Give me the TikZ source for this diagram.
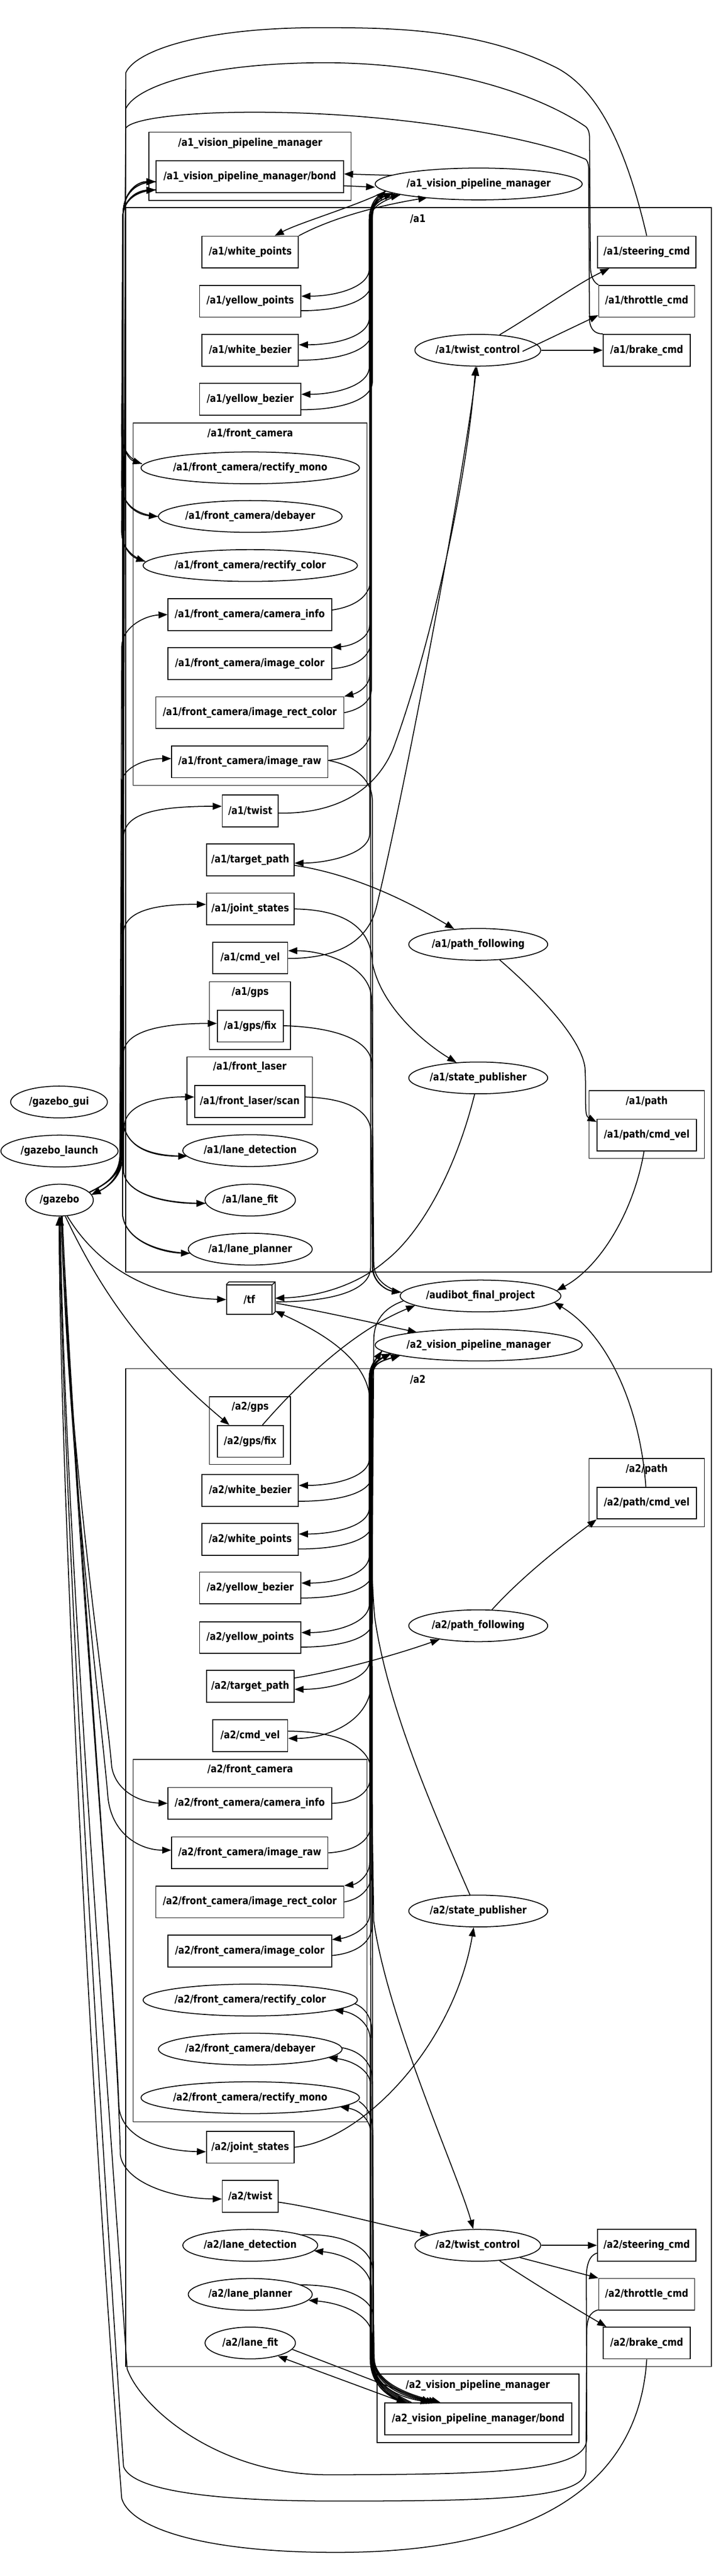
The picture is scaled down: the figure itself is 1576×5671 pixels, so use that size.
\documentclass[tikz,border=0pt]{standalone}
\usepackage{fontspec}
\newfontfamily\gvfamily{DejaVu Sans}[FakeStretch=0.85]
\newcommand\gvfont{\gvfamily\bfseries\fontsize{11.6pt}{13pt}\selectfont}
\usetikzlibrary{arrows.meta,shapes.geometric,calc}
\tikzset{
  topic/.style={draw, rectangle, line width=1pt, minimum height=35pt, inner sep=0pt, font=\gvfont},
  nodelet/.style={draw, ellipse, line width=1pt, minimum height=35pt, inner sep=0pt, font=\gvfont},
  group/.style={draw, line width=0.9pt},
  grouplabel/.style={inner sep=0pt, font=\gvfont},
  edge/.style={line width=1pt, -{Triangle[length=10pt,width=7.5pt]}},
}
\begin{document}
\begin{tikzpicture}[x=0.5pt, y=-0.5pt]
  \fill[white] (0,0) rectangle (1576,5671);
%--- Clusters
  \draw[group] (328,291) rectangle (773,441);
  \node[grouplabel] (a1vpmlbl) at (551,315) {/a1\_vision\_pipeline\_manager};
  \draw[group] (277,457) rectangle (1566,2800);
  \node[grouplabel] (a1lbl) at (920,482) {/a1};
  \draw[group] (293,931) rectangle (808,1729);
  \node[grouplabel] (a1fclbl) at (551,955) {/a1/front\_camera};
  \draw[group] (461,2161) rectangle (640,2310);
  \node[grouplabel] (a1gpslbl) at (551,2185) {/a1/gps};
  \draw[group] (412,2327) rectangle (688,2476);
  \node[grouplabel] (a1fllbl) at (550,2349) {/a1/front\_laser};
  \draw[group] (1297,2401) rectangle (1551,2550);
  \node[grouplabel] (a1pathlbl) at (1424,2425) {/a1/path};
  \draw[group] (277,3013) rectangle (1566,5210);
  \node[grouplabel] (a2lbl) at (920,3037) {/a2};
  \draw[group] (461,3075) rectangle (640,3224);
  \node[grouplabel] (a2gpslbl) at (551,3098) {/a2/gps};
  \draw[group] (1297,3211) rectangle (1551,3361);
  \node[grouplabel] (a2pathlbl) at (1424,3235) {/a2/path};
  \draw[group] (293,3873) rectangle (808,4671);
  \node[grouplabel] (a2fclbl) at (551,3896) {/a2/front\_camera};
  \draw[group] (830,5226) rectangle (1275,5377);
  \node[grouplabel] (a2vpmlbl) at (1052,5251) {/a2\_vision\_pipeline\_manager};
%--- Nodes /a1
  \node[topic, minimum width=206.5pt] (a1bond) at (550,389) {/a1\_vision\_pipeline\_manager/bond};
  \node[nodelet, minimum width=228pt] (a1vpm) at (1054,405) {/a1\_vision\_pipeline\_manager};
  \node[topic, minimum width=106pt] (a1wp) at (551,555) {/a1/white\_points};
  \node[topic, minimum width=111.5pt] (a1yp) at (551,663) {/a1/yellow\_points};
  \node[topic, minimum width=106pt] (a1wb) at (551,771) {/a1/white\_bezier};
  \node[topic, minimum width=111.5pt] (a1yb) at (551,879) {/a1/yellow\_bezier};
  \node[topic, minimum width=108.5pt] (a1steer) at (1424,555) {/a1/steering\_cmd};
  \node[topic, minimum width=105.5pt] (a1thr) at (1424,663) {/a1/throttle\_cmd};
  \node[topic, minimum width=96pt] (a1brake) at (1424,771) {/a1/brake\_cmd};
  \node[nodelet, minimum width=138.5pt] (a1tc) at (1052,771) {/a1/twist\_control};
  \node[nodelet, minimum width=240.5pt] (a1rm) at (551,1030) {/a1/front\_camera/rectify\_mono};
  \node[nodelet, minimum width=200.5pt] (a1deb) at (551,1137) {/a1/front\_camera/debayer};
  \node[nodelet, minimum width=236pt] (a1rc) at (551,1245) {/a1/front\_camera/rectify\_color};
  \node[topic, minimum width=180pt] (a1ci) at (550,1353) {/a1/front\_camera/camera\_info};
  \node[topic, minimum width=180pt] (a1ic) at (550,1461) {/a1/front\_camera/image\_color};
  \node[topic, minimum width=207pt] (a1irc) at (550,1569) {/a1/front\_camera/image\_rect\_color};
  \node[topic, minimum width=172pt] (a1ir) at (550,1677) {/a1/front\_camera/image\_raw};
  \node[topic, minimum width=61.5pt] (a1tw) at (551,1785) {/a1/twist};
  \node[topic, minimum width=96.5pt] (a1tp) at (551,1893) {/a1/target\_path};
  \node[topic, minimum width=96.5pt] (a1js) at (551,2001) {/a1/joint\_states};
  \node[topic, minimum width=82.5pt] (a1cv) at (551,2109) {/a1/cmd\_vel};
  \node[topic, minimum width=72.5pt] (a1fix) at (551,2259) {/a1/gps/fix};
  \node[topic, minimum width=121.5pt] (a1scan) at (550,2425) {/a1/front\_laser/scan};
  \node[nodelet, minimum width=153pt] (a1pf) at (1053,2079) {/a1/path\_following};
  \node[nodelet, minimum width=153pt] (a1sp) at (1053,2373) {/a1/state\_publisher};
  \node[topic, minimum width=109.5pt] (a1pcv) at (1424,2499) {/a1/path/cmd\_vel};
  \node[nodelet, minimum width=148.5pt] (a1ld) at (551,2533) {/a1/lane\_detection};
  \node[nodelet, minimum width=99.5pt] (a1lf) at (551,2642) {/a1/lane\_fit};
  \node[nodelet, minimum width=136.5pt] (a1lp) at (551,2750) {/a1/lane\_planner};
%--- Nodes outside
  \node[nodelet, minimum width=106.5pt] (gzgui) at (130,2426) {/gazebo\_gui};
  \node[nodelet, minimum width=129pt] (gzl) at (131,2534) {/gazebo\_launch};
  \node[nodelet, minimum width=74.5pt] (gz) at (131,2642) {/gazebo};
  \node[topic, minimum width=50pt, minimum height=32pt] (tf) at (549,2861) {/tf};
  \draw[line width=1pt] (tf.north west) -- ++(6,-6) -- ($(tf.north east)+(6,-6)$) -- ($(tf.south east)+(6,-6)$) -- (tf.south east);
  \draw[line width=1pt] (tf.north east) -- ++(6,-6);
  \node[nodelet, minimum width=177pt] (afp) at (1058,2853) {/audibot\_final\_project};
  \node[nodelet, minimum width=228pt] (a2vpm) at (1054,2961) {/a2\_vision\_pipeline\_manager};
%--- Nodes /a2
  \node[topic, minimum width=72.5pt] (a2fix) at (551,3173) {/a2/gps/fix};
  \node[topic, minimum width=106pt] (a2wb) at (551,3281) {/a2/white\_bezier};
  \node[topic, minimum width=106pt] (a2wp) at (551,3389) {/a2/white\_points};
  \node[topic, minimum width=111.5pt] (a2yb) at (551,3496) {/a2/yellow\_bezier};
  \node[topic, minimum width=111.5pt] (a2yp) at (551,3605) {/a2/yellow\_points};
  \node[topic, minimum width=96.5pt] (a2tp) at (551,3712) {/a2/target\_path};
  \node[topic, minimum width=82.5pt] (a2cv) at (551,3821) {/a2/cmd\_vel};
  \node[topic, minimum width=109.5pt] (a2pcv) at (1424,3309) {/a2/path/cmd\_vel};
  \node[nodelet, minimum width=153pt] (a2pf) at (1053,3579) {/a2/path\_following};
  \node[topic, minimum width=180pt] (a2ci) at (550,3970) {/a2/front\_camera/camera\_info};
  \node[topic, minimum width=172pt] (a2ir) at (550,4079) {/a2/front\_camera/image\_raw};
  \node[topic, minimum width=207pt] (a2irc) at (550,4187) {/a2/front\_camera/image\_rect\_color};
  \node[topic, minimum width=180pt] (a2ic) at (550,4295) {/a2/front\_camera/image\_color};
  \node[nodelet, minimum width=236pt] (a2rc) at (551,4403) {/a2/front\_camera/rectify\_color};
  \node[nodelet, minimum width=200.5pt] (a2deb) at (551,4511) {/a2/front\_camera/debayer};
  \node[nodelet, minimum width=240.5pt] (a2rm) at (551,4618) {/a2/front\_camera/rectify\_mono};
  \node[nodelet, minimum width=153pt] (a2sp) at (1053,4207) {/a2/state\_publisher};
  \node[topic, minimum width=96.5pt] (a2js) at (551,4727) {/a2/joint\_states};
  \node[topic, minimum width=61.5pt] (a2tw) at (551,4835) {/a2/twist};
  \node[nodelet, minimum width=148.5pt] (a2ld) at (551,4943) {/a2/lane\_detection};
  \node[nodelet, minimum width=136.5pt] (a2lp) at (551,5051) {/a2/lane\_planner};
  \node[nodelet, minimum width=99.5pt] (a2lf) at (551,5158) {/a2/lane\_fit};
  \node[nodelet, minimum width=138.5pt] (a2tc) at (1052,4943) {/a2/twist\_control};
  \node[topic, minimum width=108.5pt] (a2steer) at (1424,4943) {/a2/steering\_cmd};
  \node[topic, minimum width=105.5pt] (a2thr) at (1424,5051) {/a2/throttle\_cmd};
  \node[topic, minimum width=96pt] (a2brake) at (1424,5158) {/a2/brake\_cmd};
  \node[topic, minimum width=206pt] (a2bond) at (1053,5325) {/a2\_vision\_pipeline\_manager/bond};
%--- Vision manager /a1
  \draw[edge] ($(a1bond.east)+(0,20)$) -- ($(a1vpm.west)+(1,7)$);
  \draw[edge] ($(a1vpm.west)+(38,-19)$) -- ($(a1bond.east)+(0,-6)$);
  \draw[edge] ($(a1vpm.west)+(24,16)$) .. controls (780,455) and (660,490) .. ($(a1wp.north)+(54,0)$);
  \draw[edge] (a1wp.north east) .. controls (740,475) and (850,450) .. ($(a1vpm.west)+(116,30)$);
  \draw[edge] ($(a1vpm.west)+(40,20)$) .. controls (824,438) and (813,455) .. (813,485) -- (813,592) .. controls (813,632) and (740,652) .. ($(a1yp.east)+(0,-11)$);
  \draw[edge] ($(a1yp.east)+(0,21)$) .. controls (752,684) and (818,662) .. (818,622) -- (818,485) .. controls (818,455) and (828,440) .. ($(a1vpm.west)+(40,20)$);
  \draw[edge] ($(a1vpm.west)+(40,20)$) .. controls (824,438) and (813,455) .. (813,485) -- (813,700) .. controls (813,740) and (740,759) .. ($(a1wb.east)+(0,-12)$);
  \draw[edge] ($(a1wb.east)+(0,22)$) .. controls (752,793) and (819,770) .. (819,730) -- (819,485) .. controls (819,455) and (828,440) .. ($(a1vpm.west)+(40,20)$);
  \draw[edge] ($(a1vpm.west)+(40,20)$) .. controls (824,438) and (813,455) .. (813,485) -- (813,808) .. controls (813,848) and (740,868) .. ($(a1yb.east)+(0,-11)$);
  \draw[edge] ($(a1yb.east)+(0,23)$) .. controls (752,902) and (820,880) .. (820,840) -- (820,485) .. controls (820,455) and (828,440) .. ($(a1vpm.west)+(40,20)$);
  \draw[edge] ($(a1ci.east)+(0,-10)$) .. controls (785,1335) and (816,1310) .. (816,1275) -- (816,485) .. controls (816,455) and (828,440) .. ($(a1vpm.west)+(24,16)$);
  \draw[edge] ($(a1vpm.west)+(24,16)$) .. controls (822,435) and (814,455) .. (814,485) -- (814,1375) .. controls (814,1405) and (775,1422) .. (a1ic.north east);
  \draw[edge] ($(a1ic.east)+(0,11)$) .. controls (785,1468) and (817,1445) .. (817,1410) -- (817,485) .. controls (817,455) and (828,440) .. ($(a1vpm.west)+(24,16)$);
  \draw[edge] ($(a1vpm.west)+(24,16)$) .. controls (822,435) and (814,455) .. (814,485) -- (814,1485) .. controls (814,1510) and (790,1525) .. (a1irc.north east);
  \draw[edge] (a1irc.east) .. controls (792,1562) and (818,1545) .. (818,1515) -- (818,485) .. controls (818,455) and (830,440) .. ($(a1vpm.west)+(56,24)$);
  \draw[edge] ($(a1ir.east)+(0,-3)$) .. controls (780,1668) and (816,1645) .. (816,1605) -- (816,485) .. controls (816,455) and (830,440) .. ($(a1vpm.west)+(56,24)$);
  \draw[edge] ($(a1vpm.west)+(56,24)$) .. controls (832,445) and (814,460) .. (814,490) -- (814,1835) .. controls (814,1880) and (720,1900) .. ($(a1tp.east)+(0,7)$);
  \draw[edge] ($(tf.east)+(8,5)$) .. controls (720,2866) and (816,2845) .. (816,2790) -- (816,485) .. controls (816,455) and (830,440) .. ($(a1vpm.west)+(56,24)$);
%--- /a1 control
  \draw[edge] ($(a1ir.east)+(0,-3)$) .. controls (780,1685) and (820,1715) .. (820,1765) -- (821,2790) .. controls (821,2820) and (848,2840) .. ($(afp.west)+(3,-8)$);
  \draw[edge] ($(afp.west)+(3,-8)$) .. controls (848,2835) and (823,2815) .. (823,2780) -- (818,2200) .. controls (818,2130) and (720,2093) .. ($(a1cv.east)+(0,-16)$);
  \draw[edge] ($(a1cv.east)+(0,1)$) .. controls (740,2110) and (808,2075) .. (828,2000) .. controls (880,1790) and (1010,1120) .. ($(a1tc.south)+(-2,0)$);
  \draw[edge] ($(a1tw.east)+(0,5)$) .. controls (720,1792) and (820,1755) .. (865,1650) .. controls (950,1420) and (1030,1050) .. ($(a1tc.south)+(-5,0)$);
  \draw[edge] ($(a1tc.north)+(48,2)$) .. controls (1180,690) and (1270,625) .. ($(a1steer.south west)+(27,0)$);
  \draw[edge] ($(a1tc.north east)+(0,28)$) -- ($(a1thr.south west)+(0,-5)$);
  \draw[edge] (a1tc.east) -- (a1brake.west);
  \draw[edge] ($(a1tp.east)+(0,12)$) .. controls (780,1925) and (900,1985) .. ($(a1pf.north)+(-53,2)$);
  \draw[edge] (a1js.east) .. controls (770,2003) and (818,2050) .. (820,2120) .. controls (840,2220) and (940,2300) .. ($(a1sp.north)+(-48,2)$);
  \draw[edge] ($(a1fix.east)+(0,-1)$) .. controls (745,2262) and (819,2292) .. (819,2345) -- (821,2790) .. controls (821,2820) and (848,2840) .. ($(afp.west)+(3,-8)$);
  \draw[edge] ($(a1scan.east)+(0,-10)$) .. controls (765,2418) and (817,2445) .. (817,2495) -- (820,2790) .. controls (820,2820) and (848,2840) .. ($(afp.west)+(3,-8)$);
  \draw[edge] ($(a1pf.south)+(47,-2)$) .. controls (1200,2200) and (1280,2290) .. (1288,2350) .. controls (1292,2420) and (1285,2455) .. ($(a1pcv.west)+(0,-29)$);
  \draw[edge] ($(a1pcv.south)+(-6,0)$) .. controls (1395,2670) and (1320,2790) .. ($(afp.east)+(-10,-12)$);
  \draw[edge] ($(a1sp.south)+(-8,0)$) .. controls (1000,2590) and (920,2720) .. (850,2775) .. controls (780,2835) and (690,2855) .. ($(tf.east)+(6,-3)$);
%--- /gazebo to /a1
  \draw[edge] ($(gz.east)+(-10,-17)$) .. controls (230,2608) and (262,2590) .. (264,2545) -- (268,1425) .. controls (268,1380) and (320,1355) .. (a1ci.west);
  \draw[edge] ($(gz.east)+(-10,-17)$) .. controls (230,2608) and (262,2590) .. (264,2545) -- (268,1725) .. controls (268,1690) and (320,1670) .. ($(a1ir.west)+(0,-7)$);
  \draw[edge] ($(gz.east)+(-10,-17)$) .. controls (230,2608) and (264,2590) .. (266,2545) -- (272,1845) .. controls (272,1795) and (330,1775) .. ($(a1tw.west)+(0,-10)$);
  \draw[edge] ($(gz.east)+(-10,-17)$) .. controls (230,2608) and (264,2590) .. (266,2545) -- (272,2055) .. controls (272,2010) and (330,1990) .. ($(a1js.west)+(0,-10)$);
  \draw[edge] ($(gz.east)+(-10,-17)$) .. controls (230,2608) and (264,2590) .. (266,2545) -- (272,2320) .. controls (272,2275) and (340,2253) .. ($(a1fix.west)+(0,-6)$);
  \draw[edge] ($(gz.east)+(-10,-17)$) .. controls (230,2608) and (266,2590) .. (268,2545) -- (274,2480) .. controls (274,2435) and (340,2414) .. ($(a1scan.west)+(0,-10)$);
%--- /a1 commands to /gazebo
  \draw[edge] (a1steer.north) .. controls (1380,330) and (1320,200) .. (1227,150) .. controls (1050,60) and (850,61) .. (700,61) .. controls (450,61) and (300,110) .. (277,160) -- (270,2545) .. controls (270,2592) and (235,2614) .. ($(gz.east)+(-5,-12)$);
  \draw[edge] (a1thr.north west) .. controls (1308,622) and (1300,610) .. (1300,585) -- (1298,300) .. controls (1297,288) and (1294,283) .. (1290,279) .. controls (1190,210) and (990,140) .. (720,138) .. controls (450,138) and (300,190) .. (277,239) -- (268,2545) .. controls (268,2592) and (235,2614) .. ($(gz.east)+(-5,-12)$);
  \draw[edge] (a1brake.north west) .. controls (1310,735) and (1298,725) .. (1298,700) -- (1296,368) .. controls (1295,358) and (1293,354) .. (1290,351) .. controls (1200,310) and (900,247) .. (560,247) .. controls (400,247) and (290,262) .. (277,282) -- (266,2545) .. controls (266,2592) and (235,2614) .. ($(gz.east)+(-5,-12)$);
%--- bond /a1
  \draw[edge] ($(a1bond.west)+(0,11)$) .. controls (300,400) and (272,425) .. (271,470) -- (268,950) .. controls (268,990) and (285,1012) .. ($(a1rm.west)+(3,-9)$);
  \draw[edge] ($(a1rm.west)+(3,-9)$) .. controls (285,1012) and (268,990) .. (268,950) -- (271,470) .. controls (272,425) and (300,400) .. ($(a1bond.west)+(0,11)$);
  \draw[edge] ($(a1bond.west)+(0,29)$) .. controls (300,420) and (271,440) .. (270,480) -- (268,1066) .. controls (268,1110) and (300,1133) .. (a1deb.west);
  \draw[edge] (a1deb.west) .. controls (300,1133) and (268,1110) .. (268,1066) -- (270,480) .. controls (271,440) and (300,420) .. ($(a1bond.west)+(0,29)$);
  \draw[edge] ($(a1bond.west)+(0,11)$) .. controls (300,400) and (272,425) .. (271,470) -- (268,1170) .. controls (268,1205) and (290,1226) .. ($(a1rc.west)+(6,-9)$);
  \draw[edge] ($(a1rc.west)+(6,-9)$) .. controls (290,1226) and (268,1205) .. (268,1170) -- (271,470) .. controls (272,425) and (300,400) .. ($(a1bond.west)+(0,11)$);
  \draw[edge] ($(a1bond.west)+(0,29)$) .. controls (300,420) and (271,440) .. (270,480) -- (272,2476) .. controls (282,2530) and (340,2546) .. ($(a1ld.west)+(11,12)$);
  \draw[edge] ($(a1ld.west)+(11,12)$) .. controls (340,2546) and (282,2530) .. (272,2476) -- (270,480) .. controls (271,440) and (300,420) .. ($(a1bond.west)+(0,29)$);
  \draw[edge] ($(a1bond.west)+(0,11)$) .. controls (300,400) and (272,425) .. (271,470) -- (272,2580) .. controls (280,2635) and (380,2650) .. ($(a1lf.west)+(2,7)$);
  \draw[edge] ($(a1lf.west)+(2,7)$) .. controls (380,2650) and (280,2635) .. (272,2580) -- (271,470) .. controls (272,425) and (300,400) .. ($(a1bond.west)+(0,11)$);
  \draw[edge] ($(a1bond.west)+(0,29)$) .. controls (300,420) and (271,440) .. (270,480) -- (270,2676) .. controls (278,2735) and (360,2758) .. ($(a1lp.west)+(5,9)$);
  \draw[edge] ($(a1lp.west)+(5,9)$) .. controls (360,2758) and (278,2735) .. (270,2676) -- (270,480) .. controls (271,440) and (300,420) .. ($(a1bond.west)+(0,29)$);
%--- Middle
  \draw[edge] ($(gz.south)+(17,-1)$) .. controls (210,2780) and (320,2855) .. (tf.west);
  \draw[edge] ($(gz.south)+(13,0)$) .. controls (230,2860) and (330,2990) .. ($(a2fix.north)+(-46,0)$);
  \draw[edge] ($(a2fix.north)+(27,0)$) .. controls (680,3020) and (790,2925) .. ($(afp.west)+(34,21)$);
  \draw[edge] ($(tf.east)+(8,8)$) .. controls (700,2885) and (820,2912) .. ($(a2vpm.west)+(93,-28)$);
  \draw[edge] ($(a2sp.north)+(-18,1)$) .. controls (960,4000) and (853,3760) .. (825,3560) .. controls (815,3450) and (815,3200) .. (815,3090) .. controls (815,2990) and (700,2930) .. ($(tf.south east)+(6,-8)$);
  \draw[edge] ($(afp.west)+(8,11)$) .. controls (843,2880) and (823,2910) .. (823,2950) -- (818,3700) .. controls (818,3790) and (720,3827) .. ($(a2cv.east)+(0,6)$);
%--- /a2 control
  \draw[edge] ($(a2cv.east)+(0,-10)$) .. controls (740,3812) and (815,3840) .. (818,3900) -- (823,4230) .. controls (855,4450) and (1010,4790) .. ($(a2tc.north)+(-10,0)$);
  \draw[edge] ($(a2tp.east)+(0,-18)$) .. controls (750,3678) and (880,3640) .. ($(a2pf.south)+(-85,-6)$);
  \draw[edge] ($(a2pf.north)+(30,1)$) .. controls (1150,3470) and (1240,3400) .. (a2pcv.south west);
  \draw[edge] ($(a2pcv.north)+(-2,0)$) .. controls (1410,3100) and (1340,2940) .. ($(afp.east)+(-16,14)$);
  \draw[edge] (a2js.east) .. controls (800,4712) and (1000,4500) .. ($(a2sp.south)+(-10,0)$);
  \draw[edge] ($(a2tw.east)+(0,13)$) .. controls (700,4860) and (850,4900) .. ($(a2tc.west)+(33,-23)$);
  \draw[edge] (a2tc.east) -- (a2steer.west);
  \draw[edge] ($(a2tc.south)+(93,-9)$) -- (a2thr.north west);
  \draw[edge] ($(a2tc.south)+(48,-2)$) .. controls (1180,5030) and (1280,5090) .. ($(a2brake.north west)+(8,0)$);
%--- /a2 commands to /gazebo
  \draw[edge] ($(a2steer.west)+(0,17)$) .. controls (1298,4965) and (1291,4985) .. (1291,5015) -- (1292,5370) .. controls (1290,5440) and (1100,5448) .. (720,5448) .. controls (480,5448) and (310,5300) .. (280,5215) .. controls (230,4500) and (140,3300) .. ($(gz.south)+(2,0)$);
  \draw[edge] ($(a2thr.west)+(0,34)$) .. controls (1298,5090) and (1292,5105) .. (1292,5135) -- (1290,5440) .. controls (1285,5500) and (1100,5506) .. (740,5506) .. controls (450,5506) and (290,5480) .. (272,5430) .. controls (210,4500) and (138,3250) .. (gz.south);
  \draw[edge] (a2brake.south) .. controls (1410,5420) and (1250,5619) .. (740,5619) .. controls (430,5619) and (285,5560) .. (268,5500) .. controls (190,4500) and (132,3200) .. ($(gz.south)+(-1,0)$);
%--- /gazebo to /a2
  \draw[edge] ($(gz.south)+(4,0)$) .. controls (150,3200) and (235,3750) .. (246,3890) .. controls (256,3945) and (310,3968) .. (a2ci.west);
  \draw[edge] ($(gz.south)+(4,0)$) .. controls (150,3200) and (225,3800) .. (238,3960) .. controls (248,4040) and (310,4073) .. ($(a2ir.west)+(0,-6)$);
  \draw[edge] ($(gz.south)+(6,0)$) .. controls (160,3300) and (250,4300) .. (262,4640) .. controls (270,4705) and (350,4735) .. ($(a2js.west)+(0,10)$);
  \draw[edge] ($(gz.south)+(6,0)$) .. controls (165,3300) and (258,4400) .. (265,4745) .. controls (275,4805) and (380,4840) .. ($(a2tw.west)+(0,6)$);
%--- Vision manager /a2
  \draw[edge] ($(a2vpm.west)+(16,13)$) .. controls (828,2993) and (813,3005) .. (813,3035) -- (813,3212) .. controls (813,3250) and (740,3270) .. ($(a2wb.east)+(0,-11)$);
  \draw[edge] ($(a2wb.east)+(0,24)$) .. controls (752,3305) and (818,3285) .. (818,3250) -- (818,3035) .. controls (818,3005) and (828,2995) .. ($(a2vpm.west)+(36,19)$);
  \draw[edge] ($(a2vpm.west)+(16,13)$) .. controls (828,2993) and (813,3005) .. (813,3035) -- (813,3320) .. controls (813,3358) and (740,3377) .. ($(a2wp.east)+(0,-12)$);
  \draw[edge] ($(a2wp.east)+(0,21)$) .. controls (752,3410) and (819,3390) .. (819,3355) -- (819,3035) .. controls (819,3005) and (828,2995) .. ($(a2vpm.west)+(36,19)$);
  \draw[edge] ($(a2vpm.west)+(16,13)$) .. controls (828,2993) and (813,3005) .. (813,3035) -- (813,3425) .. controls (813,3465) and (740,3485) .. ($(a2yb.east)+(0,-11)$);
  \draw[edge] ($(a2yb.east)+(0,22)$) .. controls (752,3518) and (820,3498) .. (820,3462) -- (820,3035) .. controls (820,3005) and (832,2998) .. ($(a2vpm.west)+(56,23)$);
  \draw[edge] ($(a2vpm.west)+(16,13)$) .. controls (828,2993) and (813,3005) .. (813,3035) -- (813,3532) .. controls (813,3572) and (740,3594) .. ($(a2yp.east)+(0,-11)$);
  \draw[edge] ($(a2yp.east)+(0,21)$) .. controls (752,3626) and (820,3606) .. (820,3570) -- (820,3035) .. controls (820,3005) and (832,2998) .. ($(a2vpm.west)+(56,23)$);
  \draw[edge] ($(a2vpm.west)+(16,13)$) .. controls (828,2993) and (814,3005) .. (814,3035) -- (814,3655) .. controls (814,3700) and (720,3719) .. ($(a2tp.east)+(0,7)$);
  \draw[edge] (a2ci.east) .. controls (785,3968) and (816,3945) .. (816,3910) -- (816,3035) .. controls (816,3005) and (828,2995) .. ($(a2vpm.west)+(36,19)$);
  \draw[edge] (a2ir.east) .. controls (785,4075) and (817,4050) .. (817,4015) -- (817,3035) .. controls (817,3005) and (828,2995) .. ($(a2vpm.west)+(36,19)$);
  \draw[edge] ($(a2vpm.west)+(16,13)$) .. controls (828,2993) and (814,3005) .. (814,3035) -- (814,4100) .. controls (814,4130) and (785,4148) .. (a2irc.north east);
  \draw[edge] (a2irc.east) .. controls (790,4182) and (818,4160) .. (818,4125) -- (818,3035) .. controls (818,3005) and (832,2998) .. ($(a2vpm.west)+(56,23)$);
  \draw[edge] ($(a2vpm.west)+(16,13)$) .. controls (828,2993) and (814,3005) .. (814,3035) -- (814,4215) .. controls (814,4245) and (770,4265) .. ($(a2ic.east)+(0,-25)$);
  \draw[edge] ($(a2ic.east)+(0,10)$) .. controls (785,4300) and (819,4275) .. (819,4240) -- (819,3035) .. controls (819,3005) and (832,2998) .. ($(a2vpm.west)+(56,23)$);
%--- bond /a2
  \draw[edge] ($(a2vpm.west)+(36,19)$) .. controls (828,2995) and (819,3005) .. (819,3040) -- (821,5190) .. controls (821,5250) and (860,5275) .. ($(a2bond.north west)+(48,0)$);
  \draw[edge] ($(a2bond.north west)+(38,0)$) .. controls (835,5265) and (817,5240) .. (817,5190) -- (815,3040) .. controls (815,3005) and (828,2993) .. ($(a2vpm.west)+(16,13)$);
  \draw[edge] ($(a2rc.east)+(-7,8)$) .. controls (803,4420) and (819,4440) .. (819,4475) -- (821,5190) .. controls (821,5250) and (870,5275) .. ($(a2bond.north west)+(100,0)$);
  \draw[edge] ($(a2bond.north west)+(40,0)$) .. controls (838,5265) and (815,5240) .. (815,5190) -- (815,4490) .. controls (815,4450) and (775,4430) .. ($(a2rc.east)+(-52,22)$);
  \draw[edge] ($(a2deb.east)+(-1,-3)$) .. controls (793,4515) and (820,4540) .. (820,4580) -- (822,5190) .. controls (822,5250) and (885,5275) .. ($(a2bond.north west)+(106,0)$);
  \draw[edge] ($(a2bond.north west)+(45,0)$) .. controls (843,5265) and (816,5240) .. (816,5190) -- (816,4590) .. controls (816,4555) and (770,4535) .. ($(a2deb.east)+(-31,19)$);
  \draw[edge] ($(a2rm.east)+(-2,8)$) .. controls (811,4640) and (821,4660) .. (821,4700) -- (823,5190) .. controls (823,5250) and (895,5275) .. ($(a2bond.north west)+(112,0)$);
  \draw[edge] ($(a2bond.north west)+(50,0)$) .. controls (848,5265) and (817,5240) .. (817,5190) -- (817,4700) .. controls (817,4665) and (790,4645) .. ($(a2rm.east)+(-44,20)$);
  \draw[edge] ($(a2ld.east)+(-39,-23)$) .. controls (760,4915) and (821,4950) .. (821,5000) -- (823,5190) .. controls (823,5250) and (905,5275) .. ($(a2bond.north west)+(118,0)$);
  \draw[edge] ($(a2bond.north west)+(55,0)$) .. controls (853,5265) and (818,5240) .. (818,5190) -- (818,5040) .. controls (818,4990) and (760,4962) .. ($(a2ld.east)+(-9,12)$);
  \draw[edge] ($(a2lp.east)+(-27,-21)$) .. controls (760,5030) and (822,5060) .. (822,5100) -- (824,5190) .. controls (824,5250) and (915,5275) .. ($(a2bond.north west)+(124,0)$);
  \draw[edge] ($(a2bond.north west)+(60,0)$) .. controls (858,5265) and (819,5240) .. (819,5190) -- (819,5140) .. controls (817,5095) and (750,5070) .. ($(a2lp.east)+(-9,13)$);
  \draw[edge] ($(a2bond.north west)+(42,0)$) -- ($(a2lf.south)+(61,-7)$);
  \draw[edge] ($(a2lf.east)+(-8,14)$) -- ($(a2bond.north west)+(102,0)$);
\end{tikzpicture}
\end{document}
